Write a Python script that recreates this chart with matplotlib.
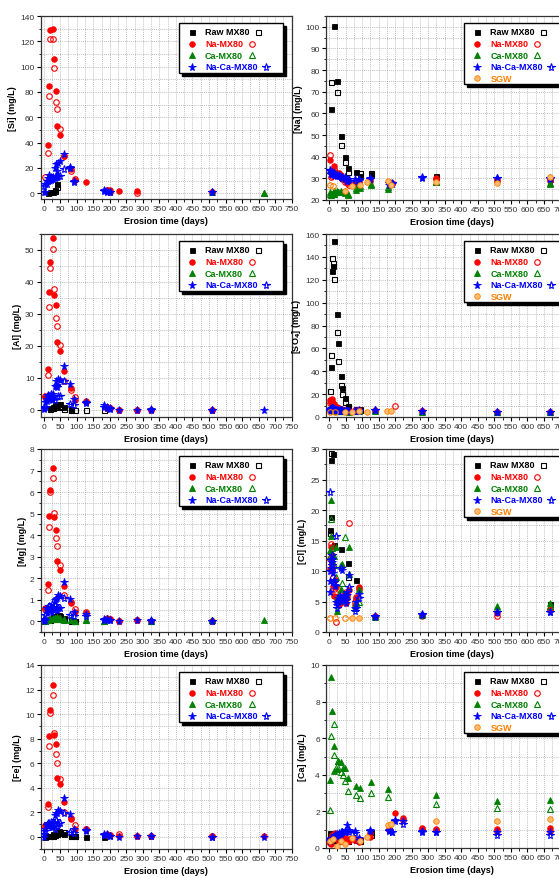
import numpy as np
import matplotlib
matplotlib.use("Agg")
import matplotlib.pyplot as plt
from matplotlib.patches import Rectangle
from matplotlib.ticker import MultipleLocator

plt.rcParams['font.family'] = ['Liberation Sans', 'DejaVu Sans']

nan = np.nan

# ---- sampling days, left column (Si, Al, Mg, Fe) ----
tL_raw = [5, 12, 20, 27, 35, 40, 45, 50, 60, 83, 96, 128, 181]
tL_na = [5, 12, 15, 18, 27, 30, 38, 41, 50, 60, 83, 96, 128, 191, 201, 227, 282, 324, 509, 667]
tL_ca = [5, 12, 20, 27, 35, 40, 45, 50, 60, 83, 96, 128, 181, 324, 509, 667]
tL_naca = [2, 5, 10, 14, 17, 22, 25, 29, 33, 36, 40, 44, 50, 60, 80, 93, 128, 181, 191, 201, 227, 282, 324, 509, 667]

# Si (mg/L), filled = first test, _o = repeat (open symbols)
si_raw = [nan, 0.5, 0.9, 0.9, 3.0, 7.4, nan, nan, nan, nan, nan, nan, nan]
si_raw_o = [nan, nan, nan, nan, 2.0, 5.0, nan, nan, nan, nan, nan, nan, nan]
si_na = [nan, 38.5, 85, 128.7, 130, 106, 80.7, 53.3, 46.4, 29.8, 19.2, 10.5, 9.2, 3.0, 3.0, 1.6, 2.1, nan, 1.3, nan]
si_na_o = [12.7, 31.5, 76.5, 122, 121.5, 98.7, 72, 66.6, 50.4, 29.2, 18, 11, nan, 2.4, 1.4, nan, 0.5, nan, 0.8, nan]
si_ca = [nan] * 14 + [0.9, 0.4]
si_ca_o = [nan] * 15 + [0.2]
si_naca = [1.0, 1.3, 9.5, 12, 14.5, 13, 11.3, 12.5, 20, 23.2, 17.9, 24, 25.8, 30.8, 21, 10, nan, 2.6, 2.2, 1.3, nan, nan, nan, 1.3, nan]
si_naca_o = [6, 7, 7.4, 10, 12, 10.5, 12, 11.3, 12, 12.7, 13, 13.5, 14, 19, 19.8, 9.2, nan, 1.5, 1.0, 0.8, nan, nan, nan, 0.9, nan]

# Al
al_raw = [nan, nan, 0.5, 0.8, 1.4, 1.8, 1.9, 1.8, 0.8, 0.2, nan, nan, nan]
al_raw_o = [nan, nan, 0.3, 0.5, 1.0, 1.5, 1.3, 1.0, 0.2, 0.1, 0.0, 0.0, 0.0]
al_na = [4.0, 12.8, 36.8, 46.1, 53.7, 36, 32.8, 21.1, 18.5, 12.3, 6.8, 3.2, 2.7, 0.8, 0.6, 0.1, 0.1, 0.1, 0.1, nan]
al_na_o = [4.5, 10.9, 32.3, 44.5, 50.3, 37.8, 28.7, 26.4, 20.3, 9.0, 6.3, 4.0, 2.5, 0.5, 0.5, 0.0, 0.0, 0.0, 0.0, nan]
al_ca = [nan] * 16
al_ca_o = [nan] * 16
al_naca = [0.2, 2.4, 2.9, 4.2, 3.4, 4.5, 3.0, 5.0, 7.5, 9.2, 7.8, 9.7, 9.5, 13.8, 8.1, 3.4, 2.6, 1.4, 0.8, 0.6, 0.0, 0.1, 0.3, 0.1, 0.0]
al_naca_o = [0.5, 0.8, 3.5, 4.7, 4.5, 5.0, 3.4, 4.0, 3.2, 7.6, 7.1, 4.5, 4.5, 9.0, 1.9, 1.6, 2.2, 0.8, 0.6, 0.4, nan, nan, 0.1, 0.0, nan]

# Mg
mg_raw = [0.02, 0.05, 0.1, 0.2, 0.25, 0.3, 0.3, 0.25, 0.15, 0.05, 0.02, nan, nan]
mg_raw_o = [nan, nan, 0.05, 0.1, 0.15, 0.2, 0.22, 0.2, 0.1, 0.03, 0.0, nan, nan]
mg_na = [0.63, 1.74, 4.88, 6.1, 7.1, 4.84, 4.25, 2.79, 2.4, 1.63, 0.87, 0.45, 0.38, 0.15, 0.12, 0.03, 0.04, 0.02, 0.0, nan]
mg_na_o = [0.55, 1.44, 4.37, 6.0, 6.65, 5.02, 3.85, 3.49, 2.6, 1.2, 0.9, 0.55, 0.42, 0.12, 0.1, 0.02, 0.05, 0.03, 0.02, nan]
mg_ca = [0.02, 0.08, 0.12, 0.15, 0.15, 0.18, 0.15, 0.13, 0.1, 0.05, 0.03, 0.05, 0.02, 0.02, 0.05, 0.05]
mg_ca_o = [0.01, 0.05, 0.1, 0.12, 0.13, 0.15, 0.12, 0.1, 0.08, 0.04, 0.02, 0.04, 0.02, 0.01, 0.04, nan]
mg_naca = [0.02, 0.05, 0.4, 0.63, 0.5, 0.55, 0.45, 0.6, 1.0, 1.05, 1.1, 1.2, 1.18, 1.8, 1.05, 0.43, 0.33, 0.12, 0.1, 0.08, 0.02, 0.05, 0.05, 0.03, nan]
mg_naca_o = [0.1, 0.3, 0.63, 0.5, 0.7, 0.65, 0.8, 0.6, 0.75, 0.55, 0.5, 0.6, 0.6, 1.1, 0.28, 0.25, 0.25, 0.05, 0.05, 0.05, nan, nan, 0.03, 0.02, nan]

# Fe
fe_raw = [0.0, 0.02, 0.1, 0.2, 0.25, 0.35, 0.45, 0.38, 0.2, 0.05, 0.02, 0.0, 0.0]
fe_raw_o = [nan, nan, 0.05, 0.1, 0.15, 0.25, 0.3, 0.3, 0.35, 0.1, 0.05, nan, nan]
fe_na = [0.95, 2.65, 8.23, 10.3, 12.36, 8.26, 7.55, 4.8, 4.29, 2.8, 1.48, 0.65, 0.65, 0.2, 0.17, 0.05, 0.03, 0.02, 0.02, 0.02]
fe_na_o = [0.8, 2.4, 7.4, 10.05, 11.55, 8.45, 6.75, 6.0, 4.7, 2.0, 1.55, 0.98, 0.6, 0.15, 0.12, 0.25, 0.02, 0.02, 0.02, nan]
fe_ca = [nan] * 16
fe_ca_o = [nan] * 16
fe_naca = [0.0, 0.65, 0.93, 1.0, 1.15, 0.9, 0.8, 1.2, 1.8, 1.97, 1.9, 2.15, 2.08, 3.17, 1.85, 0.65, 0.5, 0.25, 0.22, 0.1, 0.0, 0.02, 0.05, 0.0, 0.0]
fe_naca_o = [0.2, 0.5, 0.95, 1.1, 1.0, 1.2, 0.8, 0.9, 0.6, 1.4, 0.9, 1.0, 1.1, 1.95, 0.4, 0.3, 0.55, 0.15, 0.12, 0.1, nan, nan, 0.05, 0.0, nan]

# ---- sampling days, cations (Na, Ca) ----
tC_raw = [2, 5, 7, 14, 25, 35, 48, 59, 81, 93, 127, 323, 667]
tC_na = [2, 5, 10, 14, 18, 24, 30, 35, 40, 48, 55, 62, 80, 90, 124, 180, 190, 200, 225, 280, 324, 509, 667]
tC_ca = [2, 5, 10, 14, 15, 24, 27, 35, 42, 49, 59, 81, 93, 126, 178, 323, 509, 667]
tC_naca = [2, 5, 10, 14, 18, 24, 30, 35, 40, 48, 55, 62, 80, 90, 124, 180, 190, 200, 225, 280, 324, 509, 667]
tC_sgw = [2, 12, 24, 37, 49, 70, 93, 115, 178, 188, 324, 509, 667]

# Na
na_raw = [nan, nan, 61.9, 100.3, 75, 49.5, 39.8, 34.9, 33, 31, 32, 31, 29.5]
na_raw_o = [nan, 74.4, nan, nan, 70, 45.4, 37.7, 33, nan, 32.6, 32.5, 30.5, nan]
na_na = [38.3, 33, 32, 35.5, 33, 32.5, 32.6, 31.5, 30, 29.5, 28.5, 28.5, 28, 28.5, 29.5, 28, 27.5, nan, nan, nan, 30, 29.5, 29]
na_na_o = [41, 30.5, 31, 34.4, 32, 32, 31, 30.5, 29.5, 28.5, 28, 27, 27.5, 28, 29, 28.5, 28, nan, nan, nan, 29.5, 29, 29.5]
na_ca = [23.6, 23, 22.8, 23, 23.5, 23.7, 23.7, 23.8, 23.5, 23.2, 22.5, 24.8, 25.6, 27, 25.3, 28.2, nan, 27.4]
na_ca_o = [23, 22.5, 23, 24, 23, 24.2, 23.5, 24, 23.8, 24, 23, 25.5, 26.5, 27.5, 26, 28.5, nan, 28]
na_naca = [33.5, 32.5, 33, 32, 32, 31.5, 31.5, 30.5, 30.5, 30.5, 29.5, 29.5, 29.5, 29, 30, 27, 27.5, nan, nan, 30.3, nan, 30, 29.5]
na_naca_o = [34, 32, 32, 31.5, 31.5, 31, 31, 30.5, 30, 29.5, 29, 29, 29, 29.5, 29.5, 28, 28, nan, nan, 30.5, nan, 30.2, 30]
na_sgw = [nan, nan, nan, nan, 24, 26.3, 27, 28.2, 29, 26.7, 28.2, 27.8, 30.7]
na_sgw_o = [27, 26.6] + [nan] * 11

# Ca
ca_raw = [0.8, 0.5, 0.7, 0.5, 0.5, 0.45, 0.5, 0.5, 0.5, 0.45, 0.85, nan, nan]
ca_raw_o = [0.6, 0.45, 0.5, 0.45, 0.4, 0.4, 0.45, 0.4, 0.45, 0.4, 0.7, nan, nan]
ca_na = [0.25, 0.2, 0.6, 0.75, 0.8, 0.5, 0.7, 0.55, 0.5, 0.55, 0.45, 0.4, 0.5, 0.35, 0.6, 1.0, nan, 1.93, 1.65, 1.1, 1.05, 1.02, 1.07]
ca_na_o = [0.3, 0.45, 0.7, 0.6, 0.7, 0.5, 0.6, 0.4, 0.5, 0.4, 0.4, 0.5, 0.45, 0.5, 0.8, 1.05, nan, nan, 1.55, 1.05, 1.0, 0.95, 0.95]
ca_ca = [3.73, 9.36, 7.5, 5.58, 4.22, 4.31, 4.76, 4.69, 4.36, 4.36, 3.82, 3.4, 3.27, 3.58, 3.24, 2.9, 2.55, 2.64]
ca_ca_o = [2.05, 6.1, nan, 6.8, 5.1, 4.5, 4.76, 4.15, 4.0, 3.67, 3.13, 2.9, 2.73, 3.0, 2.78, 2.42, 2.18, 2.13]
ca_naca = [0.45, 0.55, 0.5, 0.6, 0.65, 0.7, 0.8, 0.85, 0.9, 0.95, 1.25, 1.0, 0.95, 0.55, 1.0, 1.0, 0.9, 1.55, 1.45, 0.95, 0.9, 0.85, 0.85]
ca_naca_o = [0.4, 0.5, 0.55, 0.6, 0.7, 0.75, 0.65, 0.75, 0.85, 0.9, 1.0, 0.9, 0.8, 0.45, 0.95, 0.95, 0.9, 1.5, 1.3, 0.9, 0.85, 0.7, 0.7]
ca_sgw = [0.4, 0.5, 0.1, 0.4, 0.2, 0.55, 0.4, 0.6, 1.24, 1.33, 1.5, 1.5, 1.6]
ca_sgw_o = [nan] * 13

# ---- sampling days, anions (SO4, Cl) ----
tA_raw = [3, 5, 7, 10, 12, 15, 25, 28, 35, 38, 48, 59, 81, 93, 667]
tA_na = [3, 5, 8, 10, 12, 15, 18, 22, 25, 30, 35, 40, 45, 50, 55, 60, 78, 82, 90, 140, 200, 280, 509, 667]
tA_ca = [3, 5, 7, 10, 15, 20, 25, 30, 35, 40, 47, 60, 78, 82, 90, 140, 280, 509, 667]
tA_naca = [2, 4, 6, 8, 10, 12, 15, 18, 22, 25, 28, 32, 35, 40, 45, 50, 55, 60, 78, 82, 90, 140, 280, 509, 667]
tA_sgw = [3, 17, 48, 70, 90, 115, 176, 188]

# SO4
so4_raw = [15, nan, 43.4, 127.7, 132, 153.5, 90, 65, 35.9, 25.6, 16.9, 8.7, 7.3, 7.3, nan]
so4_raw_o = [22.4, nan, 54.5, 139, 135, 120.4, 74.6, 49.3, 28.3, 20, 12.8, 10, 6.7, 6, nan]
so4_na = [15, 14, 15.5, 13, 12, 11, 10, 9, 8.5, 8, 7, 6.5, 6, 6, 5.5, 5.5, 6, 6, 6.5, 6, nan, 5.5, 4.5, 4.5]
so4_na_o = [12, 13, 12, 11, 10, 9, 9, 8, 7, 7, 6.5, 6, 5.5, 5.5, 5, 5, 5.5, 5.5, 6, 5.5, 9.9, 5, 4.3, 4.2]
so4_ca = [8, 7.5, 7, 7, 6.5, 6.5, 6, 6, 6, 5.5, 5.5, 5, 5.5, 5.5, 6, 6, 5, 4.5, 4.5]
so4_ca_o = [7, 6.5, 6.5, 6, 6, 5.5, 5.5, 5.5, 5, 5, 5, 4.5, 5, 5, 5.5, 5.5, 4.8, 4.2, 4.3]
so4_naca = [6, 7, 7.5, 8, 8, 7.5, 7, 7, 6.5, 6.5, 6.5, 6, 6, 6, 5.5, 5.5, 5.5, 5.5, 5.5, 5.5, 6, 6.3, 5.5, 4.7, 4.6]
so4_naca_o = [5.5, 6.5, 7, 7, 7.5, 7, 6.5, 6.5, 6, 6, 6, 5.5, 5.5, 5.5, 5, 5, 5, 5, 5, 5, 5.5, 6, 5.2, 4.5, 4.4]
so4_sgw = [nan, nan, 4.5, 4.5, 5.0, 4.7, 5.2, 5.2]
so4_sgw_o = [4.7, 4.7, nan, nan, nan, nan, nan, nan]

# Cl
cl_raw = [16.7, 18.9, 28.2, nan, 29.2, 14.2, nan, nan, 13.6, nan, nan, 11.3, 8.5, nan, 4.6]
cl_raw_o = [16.2, nan, 29.3, nan, nan, nan, nan, nan, nan, nan, nan, 9.0, nan, nan, nan]
cl_na = [10.3, 14, 12.5, 10.3, 7.6, 5.9, 8.6, 7.3, 5.5, 4.5, 5.2, 5.8, 6, 4.8, 5.5, 6.9, 4.5, 5.8, 7.3, 2.5, nan, 2.7, 3.1, 3.7]
cl_na_o = [12, 14.4, 12.7, 11, 9, 7, 6.5, 1.6, 5, 5.5, 6, 5, 5.5, 6.5, 6, 17.9, 5, 5.4, 7, 2.6, nan, 2.8, 2.7, 3.6]
cl_ca = [13.5, 21.6, 15.8, 12, 12.5, 14, 3.4, 5.1, 7, 11.2, 6, 14, 4.5, 4.8, 7, 2.5, 2.8, 4.3, 4.7]
cl_ca_o = [12.5, nan, 18.5, 13.8, 11, 9, 5.5, 6, 11, 8, 15.6, 9.5, 4, 5, 4.9, 2.6, 2.9, 4.0, 4.3]
cl_naca = [6.6, 8.4, 10.5, 12, 11.5, 9.7, 8.6, 7.7, 5, 4.5, 5.6, 5.9, 5.1, 10.1, 5.5, 4.8, 6, 9.3, 4, 4.9, 6.2, 2.5, 2.8, 3.2, 3.2]
cl_naca_o = [22.9, 10, 11.8, 12.7, 11, 10.5, 8.2, 7.5, 15.8, 4, 5, 5.3, 10.5, 5.5, 6, 5.2, 6.5, 7.3, 3.4, 4, 5.5, 2.6, 2.9, 3.3, 3.3]
cl_sgw = [nan, nan, nan, 2.3, 2.3, nan, nan, nan]
cl_sgw_o = [2.3, 2.3, 2.3, nan, nan, nan, nan, nan]

# ---- styles ----
STYLE = {
    'raw': dict(marker='s', color='black', ms=3.6, label='Raw MX80'),
    'na': dict(marker='o', color='#ff0000', ms=4.0, label='Na-MX80'),
    'ca': dict(marker='^', color='#008000', ms=4.4, label='Ca-MX80'),
    'naca': dict(marker='*', color='#0000ff', ms=5.8, label='Na-Ca-MX80'),
    'sgw': dict(marker='o', color='#ff8000', ms=4.0, label='SGW'),
}
SGW_FACE = '#ffbb70'

W, H = 559, 879
fig = plt.figure(figsize=(W / 100, H / 100), dpi=100)


def make_axes(left, top, bottom, width=251):
    return fig.add_axes([left / W, (H - bottom) / H, width / W, (bottom - top) / H])


def draw_series(ax, key, t, filled, hollow):
    st = STYLE[key]
    face = SGW_FACE if key == 'sgw' else st['color']
    ax.plot(t, filled, ls='none', marker=st['marker'], ms=st['ms'], mfc=face,
            mec=st['color'], mew=0.6, zorder=3)
    ax.plot(t, hollow, ls='none', marker=st['marker'], ms=st['ms'], mfc='none',
            mec=st['color'], mew=0.8, zorder=3)


def draw_legend(ax, keys):
    r = fig.canvas.get_renderer()
    wpx, hpx = ax.bbox.width, ax.bbox.height
    x0, x1 = 0.551, (0.965 if 'sgw' not in keys else 1.2)
    top = 0.962
    row = 11.6 / hpx
    first = top - 9.0 / hpx
    bottom = first - row * (len(keys) - 1) - 6.0 / hpx
    # black drop shadow then white box
    ax.add_patch(Rectangle((x0 + 3 / wpx, bottom - 3 / hpx), x1 - x0, top - bottom,
                           transform=ax.transAxes, fc='black', ec='black', lw=1,
                           zorder=19, clip_on=False))
    ax.add_patch(Rectangle((x0, bottom), x1 - x0, top - bottom, transform=ax.transAxes,
                           fc='white', ec='black', lw=1, zorder=20, clip_on=False))
    for i, key in enumerate(keys):
        st = STYLE[key]
        y = first - i * row
        face = SGW_FACE if key == 'sgw' else st['color']
        ax.plot([0.602], [y], ls='none', marker=st['marker'], ms=st['ms'], mfc=face,
                mec=st['color'], mew=0.6, transform=ax.transAxes, clip_on=False, zorder=21)
        txt = ax.text(0.655, y, st['label'], transform=ax.transAxes, fontsize=6.5,
                      fontweight='bold', color=st['color'], va='center', ha='left', zorder=21)
        if key == 'sgw':
            continue
        bb = txt.get_window_extent(renderer=r)
        xo = (bb.x1 - ax.bbox.x0 + 8.5) / wpx
        ax.plot([xo], [y], ls='none', marker=st['marker'], ms=st['ms'], mfc='none',
                mec=st['color'], mew=0.8, transform=ax.transAxes, clip_on=False, zorder=21)


def style_axes(ax, ylim, major, minor, ylabel):
    ax.set_xlim(-9, 750)
    ax.set_ylim(*ylim)
    ax.xaxis.set_major_locator(MultipleLocator(50))
    ax.xaxis.set_minor_locator(MultipleLocator(25))
    ax.yaxis.set_major_locator(MultipleLocator(major))
    ax.yaxis.set_minor_locator(MultipleLocator(minor))
    ax.set_axisbelow(True)
    ax.grid(which='both', ls=(0, (1, 1.5)), lw=0.6, color='#a8a8a8')
    ax.tick_params(which='major', direction='out', length=3, width=0.8, labelsize=6,
                   labelcolor='#333333', pad=1.5)
    ax.tick_params(which='minor', direction='out', length=1.8, width=0.6)
    for s in ax.spines.values():
        s.set_linewidth(0.9)
        s.set_color('#333333')
    ax.set_ylabel(ylabel, fontsize=6.5, fontweight='bold', labelpad=2)
    ax.set_xlabel('Erosion time (days)', fontsize=6.5, fontweight='bold', labelpad=3)


LEFT, RIGHT = 40.7, 326

# left column
ax = make_axes(LEFT, 17, 200)
draw_series(ax, 'raw', tL_raw, si_raw, si_raw_o)
draw_series(ax, 'na', tL_na, si_na, si_na_o)
draw_series(ax, 'ca', tL_ca, si_ca, si_ca_o)
draw_series(ax, 'naca', tL_naca, si_naca, si_naca_o)
style_axes(ax, (-4.5, 140), 20, 10, '[Si] (mg/L)')
draw_legend(ax, ['raw', 'na', 'ca', 'naca'])

ax = make_axes(LEFT, 235, 418)
draw_series(ax, 'raw', tL_raw, al_raw, al_raw_o)
draw_series(ax, 'na', tL_na, al_na, al_na_o)
draw_series(ax, 'ca', tL_ca, al_ca, al_ca_o)
draw_series(ax, 'naca', tL_naca, al_naca, al_naca_o)
style_axes(ax, (-2.2, 55), 10, 5, '[Al] (mg/L)')
draw_legend(ax, ['raw', 'na', 'ca', 'naca'])

ax = make_axes(LEFT, 450, 633)
draw_series(ax, 'raw', tL_raw, mg_raw, mg_raw_o)
draw_series(ax, 'na', tL_na, mg_na, mg_na_o)
draw_series(ax, 'ca', tL_ca, mg_ca, mg_ca_o)
draw_series(ax, 'naca', tL_naca, mg_naca, mg_naca_o)
style_axes(ax, (-0.5, 8), 1, 0.5, '[Mg] (mg/L)')
draw_legend(ax, ['raw', 'na', 'ca', 'naca'])

ax = make_axes(LEFT, 666, 850)
draw_series(ax, 'raw', tL_raw, fe_raw, fe_raw_o)
draw_series(ax, 'na', tL_na, fe_na, fe_na_o)
draw_series(ax, 'ca', tL_ca, fe_ca, fe_ca_o)
draw_series(ax, 'naca', tL_naca, fe_naca, fe_naca_o)
style_axes(ax, (-1, 14), 2, 1, '[Fe] (mg/L)')
draw_legend(ax, ['raw', 'na', 'ca', 'naca'])

# right column
ax = make_axes(RIGHT, 17, 201)
draw_series(ax, 'raw', tC_raw, na_raw, na_raw_o)
draw_series(ax, 'na', tC_na, na_na, na_na_o)
draw_series(ax, 'ca', tC_ca, na_ca, na_ca_o)
draw_series(ax, 'naca', tC_naca, na_naca, na_naca_o)
draw_series(ax, 'sgw', tC_sgw, na_sgw, na_sgw_o)
style_axes(ax, (20, 105), 10, 5, '[Na] (mg/L)')
draw_legend(ax, ['raw', 'na', 'ca', 'naca', 'sgw'])

ax = make_axes(RIGHT, 235, 418)
draw_series(ax, 'raw', tA_raw, so4_raw, so4_raw_o)
draw_series(ax, 'na', tA_na, so4_na, so4_na_o)
draw_series(ax, 'ca', tA_ca, so4_ca, so4_ca_o)
draw_series(ax, 'naca', tA_naca, so4_naca, so4_naca_o)
draw_series(ax, 'sgw', tA_sgw, so4_sgw, so4_sgw_o)
style_axes(ax, (0, 160), 20, 10, '[SO$_\\mathbf{4}$] (mg/L)')
draw_legend(ax, ['raw', 'na', 'ca', 'naca', 'sgw'])

ax = make_axes(RIGHT, 450, 633)
draw_series(ax, 'raw', tA_raw, cl_raw, cl_raw_o)
draw_series(ax, 'na', tA_na, cl_na, cl_na_o)
draw_series(ax, 'ca', tA_ca, cl_ca, cl_ca_o)
draw_series(ax, 'naca', tA_naca, cl_naca, cl_naca_o)
draw_series(ax, 'sgw', tA_sgw, cl_sgw, cl_sgw_o)
style_axes(ax, (0, 30), 5, 2.5, '[Cl] (mg/L)')
draw_legend(ax, ['raw', 'na', 'ca', 'naca', 'sgw'])

ax = make_axes(RIGHT, 666, 849)
draw_series(ax, 'raw', tC_raw, ca_raw, ca_raw_o)
draw_series(ax, 'na', tC_na, ca_na, ca_na_o)
draw_series(ax, 'ca', tC_ca, ca_ca, ca_ca_o)
draw_series(ax, 'naca', tC_naca, ca_naca, ca_naca_o)
draw_series(ax, 'sgw', tC_sgw, ca_sgw, ca_sgw_o)
style_axes(ax, (0, 10), 2, 1, '[Ca] (mg/L)')
draw_legend(ax, ['raw', 'na', 'ca', 'naca', 'sgw'])

fig.savefig('out.png', dpi=100)
